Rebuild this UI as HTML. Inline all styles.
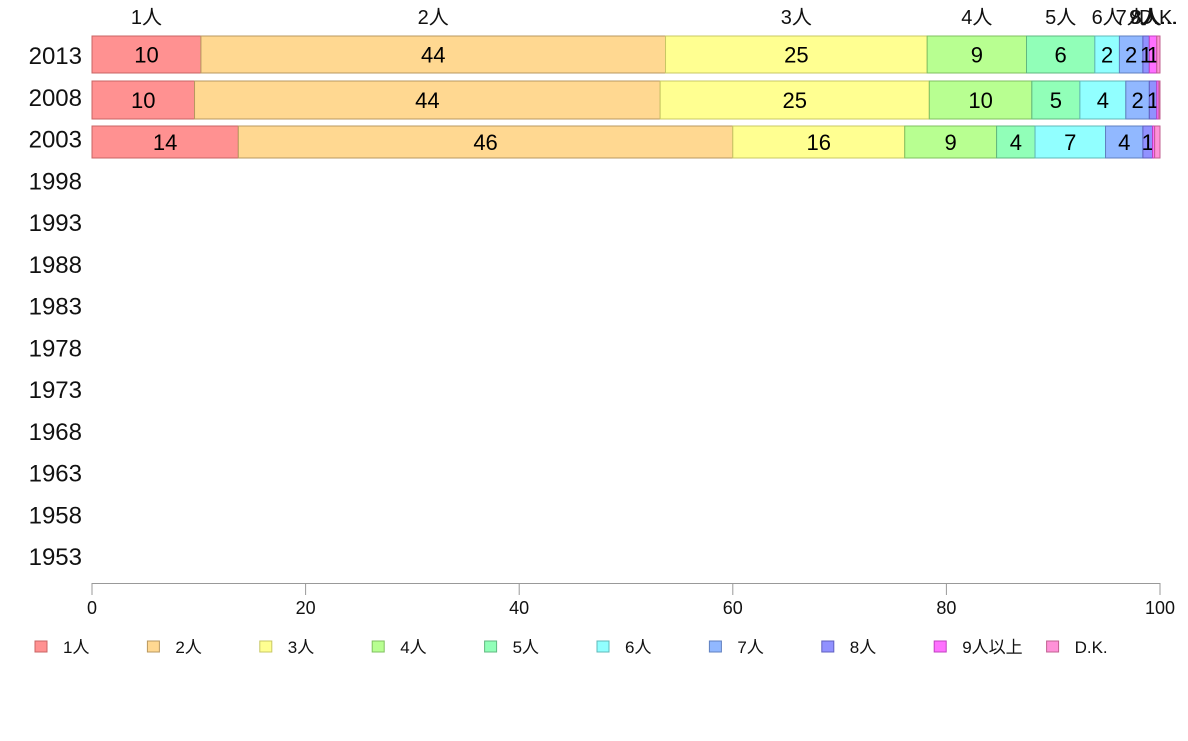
<!DOCTYPE html>
<html><head><meta charset="utf-8"><style>
body{margin:0;background:#fff;}
svg text{font-family:"Liberation Sans","Noto Sans CJK JP",sans-serif;}
</style></head><body>
<svg id="chart" width="1188" height="736" xmlns="http://www.w3.org/2000/svg"></svg>
<script>
const categories = ["1人","2人","3人","4人","5人","6人","7人","8人","9人以上","D.K."];
const years = ["2013","2008","2003","1998","1993","1988","1983","1978","1973","1968","1963","1958","1953"];
const s2013 = [10.2,43.5,24.5,9.3,6.4,2.3,2.2,0.6,0.7,0.3];
const s2008 = [9.6,43.6,25.2,9.6,4.5,4.3,2.2,0.7,0.2,0.1];
const s2003 = [13.7,46.3,16.1,8.6,3.6,6.6,3.5,0.9,0.2,0.5];
const seriesByYear = [s2013,s2008,s2003];
const xTicks = [0,20,40,60,80,100];
const colors = ["#ff9191","#ffd891","#ffff91","#b8ff91","#91ffb8","#91ffff","#91b8ff","#9191ff","#ff70ff","#ff91d8"];
const strokes = ["#c86464","#b89860","#c8c864","#80c060","#60b880","#60b8b8","#6080c0","#6060c0","#c040c0","#c06090"];
const svg = document.getElementById('chart');
const NS = "http://www.w3.org/2000/svg";
const x = v => 92 + v * 10.68;
const yRow = i => 55 + i * 41.75;
const bandTop = [36,81,126], bandH = [37,38,32];
function mk(tag, attrs, txt){const e=document.createElementNS(NS,tag);for(const k in attrs)e.setAttribute(k,attrs[k]);if(txt!==undefined)e.textContent=txt;svg.appendChild(e);return e;}
// year labels
years.forEach((yr,i)=>{
  const t = mk('text',{x:82,y:yRow(i)+9,'text-anchor':'end','font-size':24,fill:'#111'},yr);
  
  
});
// bars
seriesByYear.forEach((vals,r)=>{
  let cum=0;
  vals.forEach((v,c)=>{
    const rect = mk('rect',{x:x(cum),y:bandTop[r],width:x(cum+v)-x(cum),height:bandH[r],fill:colors[c],stroke:strokes[c],'stroke-width':1});
    
    
    const lab = Math.round(v);
    if (v >= 0.6) {
      const t = mk('text',{x:(x(cum)+x(cum+v))/2,y:bandTop[r]+bandH[r]/2+8,'text-anchor':'middle','font-size':22,fill:'#000'},String(lab));
      
      
    }
    if (r===0) {
      let name = categories[c];
      if (c>=8) name = c===8 ? "9人..." : "D.K.";
      const t = mk('text',{x:(x(cum)+x(cum+v))/2,y:24,'text-anchor':'middle','font-size':20,fill:'#111'},name);
      
      
    }
    cum+=v;
  });
});
// x axis
const ax = mk('line',{x1:92,x2:1160,y1:583.5,y2:583.5,stroke:'#999','stroke-width':1});


xTicks.forEach(v=>{
  const l = mk('line',{x1:x(v),x2:x(v),y1:583,y2:595,stroke:'#999','stroke-width':1});
  
  
  const t = mk('text',{x:x(v),y:614,'text-anchor':'middle','font-size':18,fill:'#111'},String(v));
  
  
});
// legend
categories.forEach((c,i)=>{
  const lx = 35 + i*112.4;
  const r = mk('rect',{x:lx,y:641,width:12,height:11,fill:colors[i],stroke:strokes[i],'stroke-width':1});
  
  
  const t = mk('text',{x:lx+28,y:653,'font-size':17,fill:'#111'},c);
  
  
});
</script>
</body></html>
